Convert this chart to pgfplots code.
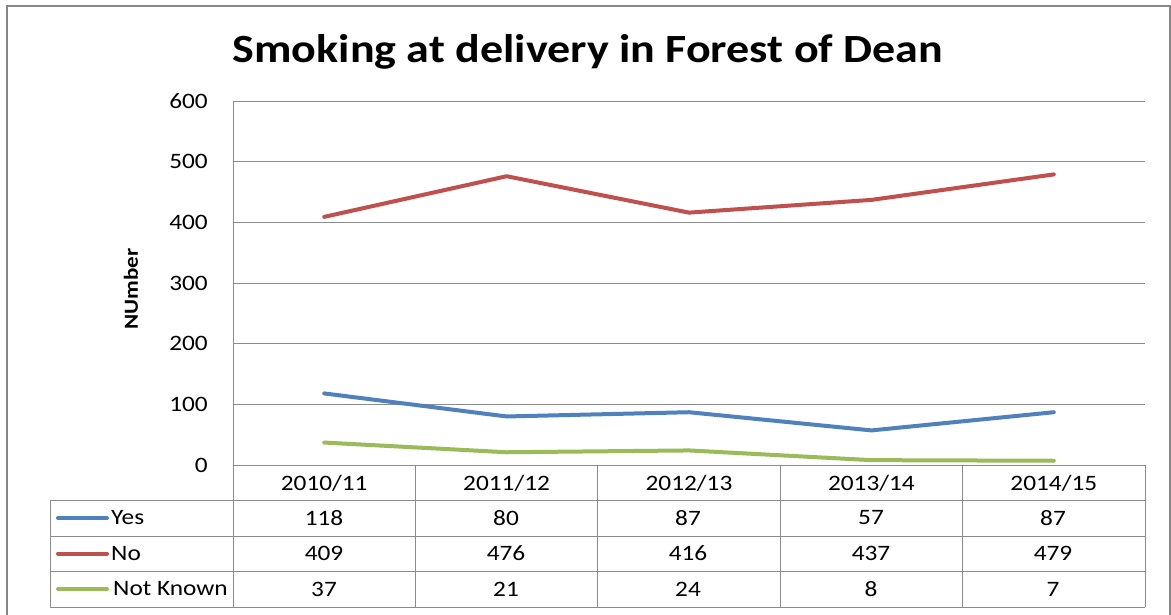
\documentclass[border=0pt]{standalone}
\usepackage{pgfplots}
\pgfplotsset{compat=1.18}
\usepackage{fontspec}
\setmainfont{Carlito}[FakeStretch=1.15]
\definecolor{cblue}{HTML}{4F81BD}
\definecolor{cred}{HTML}{C0504D}
\definecolor{cgreen}{HTML}{9BBB59}
\definecolor{gridc}{HTML}{8C8C8C}
\definecolor{framec}{HTML}{868686}
\begin{document}
\begin{tikzpicture}[x=1pt,y=1pt]
\useasboundingbox (0,0) rectangle (1171,614);
\fill[white] (0,0) rectangle (1171,614);
\draw[framec, line width=2pt] (7,-20) -- (7,608) -- (1170,608) -- (1170,-20);
\node[font=\fontsize{40}{44}\selectfont\bfseries] at (588,562) {Smoking at delivery in Forest of Dean};
\node[rotate=90, font=\fontsize{20}{22}\selectfont\bfseries] at (131,325) {NUmber};
\begin{axis}[
  at={(233pt,149pt)}, anchor=south west,
  scale only axis, width=912pt, height=364pt,
  xmin=-0.5, xmax=4.5, ymin=0, ymax=600,
  ytick={0,100,...,600},
  xtick={0,1,2,3,4},
  xticklabels={2010/11,2011/12,2012/13,2013/14,2014/15},
  axis x line*=bottom, axis y line*=left,
  axis line style={draw=gridc, line width=1pt},
  ymajorgrids, grid style={draw=gridc, line width=1pt},
  major tick length=0pt,
  tick label style={font=\fontsize{22}{24}\selectfont},
  /pgf/number format/assume math mode=true,
  yticklabel style={anchor=east, inner sep=0pt, xshift=-25pt},
  xticklabel style={anchor=center, inner sep=0pt, yshift=-18pt},
  clip=false,
]
\addplot[cblue, line width=4pt, line join=round, line cap=round] coordinates {(0,118) (1,80) (2,87) (3,57) (4,87)};
\addplot[cred, line width=4pt, line join=round, line cap=round] coordinates {(0,409) (1,476) (2,416) (3,437) (4,479)};
\addplot[cgreen, line width=4pt, line join=round, line cap=round] coordinates {(0,37) (1,21) (2,24) (3,8) (4,7)};
\end{axis}
% data table
\draw[gridc, line width=1pt] (50,114) -- (1145,114);
\draw[gridc, line width=1pt] (50,78) -- (1145,78);
\draw[gridc, line width=1pt] (50,43) -- (1145,43);
\draw[gridc, line width=1pt] (50,7) -- (1145,7);
\draw[gridc, line width=1pt] (50,114) -- (50,7);
\foreach \xx in {233,415,597,780,962,1145} {\draw[gridc, line width=1pt] (\xx,149) -- (\xx,7);}
\draw[cblue, line width=4pt, line cap=round] (58,96) -- (107,96);
\draw[cred, line width=4pt, line cap=round] (58,60.5) -- (107,60.5);
\draw[cgreen, line width=4pt, line cap=round] (58,25) -- (107,25);
\begin{scope}[every node/.style={font=\fontsize{22}{24}\selectfont, inner sep=0pt}]
\node[anchor=west] at (111,96) {Yes};
\node[anchor=west] at (111,60.5) {No};
\node[anchor=west] at (113,25) {Not Known};
\foreach \xx/\a/\b/\c in {324/118/409/37, 506/80/476/21, 688/87/416/24, 871/57/437/8, 1053/87/479/7} {
  \node at (\xx,96) {\a};
  \node at (\xx,60.5) {\b};
  \node at (\xx,25) {\c};
}
\end{scope}
\end{tikzpicture}
\end{document}
